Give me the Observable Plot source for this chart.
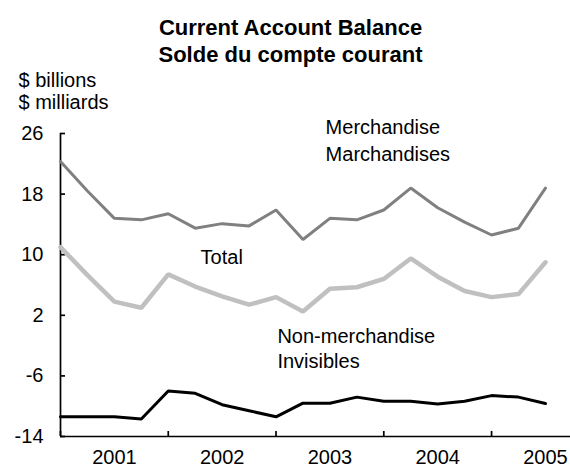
<!DOCTYPE html>
<html><head><meta charset="utf-8">
<script src="https://cdn.jsdelivr.net/npm/d3@7"></script>
<script src="https://cdn.jsdelivr.net/npm/@observablehq/plot@0.6"></script>
<style>body{margin:0;background:#fff}</style>
</head><body><div id="chart"></div>
<script>
// Quarterly data, 2001Q1 - 2005Q3 ($ billions)
const quarters = ["2001Q1","2001Q2","2001Q3","2001Q4","2002Q1","2002Q2","2002Q3","2002Q4",
  "2003Q1","2003Q2","2003Q3","2003Q4","2004Q1","2004Q2","2004Q3","2004Q4","2005Q1","2005Q2","2005Q3"];
const merchandise = [22.3,18.4,14.8,14.6,15.4,13.5,14.1,13.8,15.9,12.0,14.8,14.6,15.9,18.8,16.2,14.3,12.6,13.5,18.8];
const total = [11.0,7.3,3.8,3.0,7.4,5.8,4.5,3.4,4.4,2.5,5.5,5.7,6.8,9.5,7.1,5.2,4.4,4.8,9.0];
const nonMerchandise = [-11.4,-11.4,-11.4,-11.7,-8.0,-8.3,-9.8,-10.6,-11.4,-9.6,-9.6,-8.8,-9.35,-9.35,-9.7,-9.35,-8.6,-8.8,-9.65];
const yTicks = [-14,-6,2,10,18,26];
const years = ["2001","2002","2003","2004","2005"];

const rows = (vals, series) => vals.map((v, i) => ({i, quarter: quarters[i], value: v, series}));
const data = [
  ...rows(merchandise, "Merchandise"),
  ...rows(total, "Total"),
  ...rows(nonMerchandise, "Non-merchandise")
];
// year boundaries (Q1) and label positions (mid-year)
const yearTickIdx = quarters.map((q, i) => q.endsWith("Q1") ? i : null).filter(d => d !== null);
const yearLabelIdx = yearTickIdx.map(i => i + 2);

const font = "'Liberation Sans', Arial, Helvetica, sans-serif";

const chart = Plot.plot({
  width: 570,
  height: 469,
  marginLeft: 60,
  marginRight: 0,
  marginTop: 133,
  marginBottom: 33,
  style: {fontFamily: font, fontSize: "20px", color: "#000", background: "#fff"},
  x: {domain: [0, 18.93], label: null},
  y: {domain: [-14, 26], label: null},
  marks: [
    Plot.axisY({ticks: yTicks, tickSize: -5, tickPadding: 22, tickFormat: d => d, fontSize: 20, strokeWidth: 1.7, label: null}),
    Plot.axisX({ticks: yearTickIdx, tickSize: -5, tickFormat: () => "", strokeWidth: 1.7, label: null}),
    Plot.axisX({ticks: yearLabelIdx, tickSize: 0, tickPadding: 13, tickFormat: d => years[yearLabelIdx.indexOf(d)], fontSize: 20, label: null}),
    Plot.ruleX([0], {stroke: "#000", strokeWidth: 1.7}),
    Plot.ruleY([-14], {stroke: "#000", strokeWidth: 1.7}),
    Plot.line(data.filter(d => d.series === "Total"), {x: "i", y: "value", stroke: "#c0c0c0", strokeWidth: 4.5, strokeLinejoin: "miter"}),
    Plot.line(data.filter(d => d.series === "Merchandise"), {x: "i", y: "value", stroke: "#808080", strokeWidth: 3, strokeLinejoin: "miter"}),
    Plot.line(data.filter(d => d.series === "Non-merchandise"), {x: "i", y: "value", stroke: "#000", strokeWidth: 3, strokeLinejoin: "miter"}),
    // series labels
    Plot.text(["Merchandise\nMarchandises"], {x: 9.84, y: 28.5, textAnchor: "start", lineAnchor: "top", lineHeight: 1.35, fontSize: 20}),
    Plot.text(["Total"], {x: 5.2, y: 10.7, textAnchor: "start", lineAnchor: "top", fontSize: 20}),
    Plot.text(["Non-merchandise\nInvisibles"], {x: 8.05, y: 0.67, textAnchor: "start", lineAnchor: "top", lineHeight: 1.25, fontSize: 20}),
    // title and unit
    Plot.text(["Current Account Balance\nSolde du compte courant"], {frameAnchor: "top-left", dx: 230, dy: -118, textAnchor: "middle", lineAnchor: "top", lineHeight: 1.23, fontSize: 22, fontWeight: "bold"}),
    Plot.text(["$ billions\n$ milliards"], {frameAnchor: "top-left", dx: -42, dy: -62, textAnchor: "start", lineAnchor: "top", lineHeight: 1.1, fontSize: 20})
  ]
});
document.getElementById("chart").appendChild(chart);
</script></body></html>
